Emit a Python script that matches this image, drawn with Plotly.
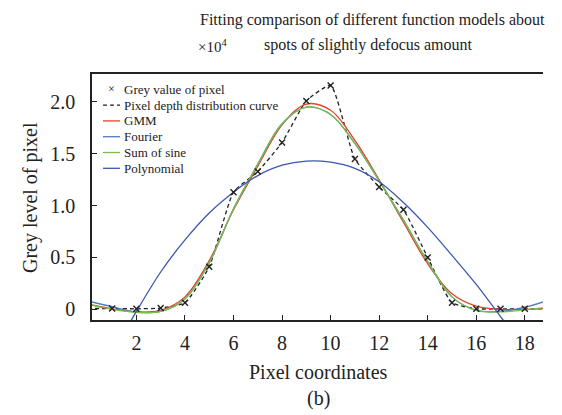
import plotly.graph_objects as go

# ---------------- data ----------------
pixel_x = list(range(0, 20))
grey_value = [0.008, 0.008, 0.005, 0.012, 0.064, 0.41, 1.13, 1.33, 1.61, 2.01,
              2.16, 1.45, 1.18, 0.96, 0.50, 0.064, 0.005, 0.005, 0.005, 0.005]

fit_x = list(range(0, 20))
gmm = [0.05, 0.005, -0.025, -0.01, 0.12, 0.47, 0.96, 1.38, 1.78, 1.98,
       1.92, 1.63, 1.25, 0.84, 0.44, 0.15, 0.03, 0.0, 0.0, 0.01]
fourier = [0.08, 0.025, -0.025, -0.02, 0.10, 0.45, 0.97, 1.40, 1.79, 1.95,
           1.88, 1.60, 1.24, 0.86, 0.46, 0.12, -0.01, -0.02, 0.02, 0.09]
sum_of_sine = [0.05, 0.0, -0.03, -0.02, 0.10, 0.45, 0.97, 1.40, 1.79, 1.95,
               1.88, 1.60, 1.24, 0.86, 0.46, 0.12, -0.01, -0.025, -0.005, 0.02]
poly_x = [1.7, 2, 3, 4, 5, 6, 7, 8, 9, 10, 11, 12, 13, 14, 15, 16, 17, 17.3]
polynomial = [-0.14, -0.02, 0.36, 0.67, 0.93, 1.13, 1.29, 1.39, 1.43, 1.42,
              1.36, 1.23, 1.03, 0.79, 0.52, 0.24, -0.07, -0.16]

x_tick_vals = [2, 4, 6, 8, 10, 12, 14, 16, 18]
y_tick_vals = [0, 0.5, 1.0, 1.5, 2.0]
y_tick_text = ["0", "0.5", "1.0", "1.5", "2.0"]

legend_names = ["Grey value of pixel", "Pixel depth distribution curve", "GMM",
                "Fourier", "Sum of sine", "Polynomial"]

# ---------------- styles ----------------
FONT = "Liberation Serif"
C_RED = "#E5402A"
C_FOU = "#4A7CC8"
C_GRN = "#77C043"
C_POL = "#3B57AE"
C_BLK = "#222222"

L, R, T, B = 92, 19, 74, 95
W, H = 562, 415
PW, PH = W - L - R, H - T - B


def px2paper(px, py):
    return (px - L) / PW, (H - B - py) / PH


fig = go.Figure()
fig.add_trace(go.Scatter(x=pixel_x, y=grey_value, mode="lines", name=legend_names[1],
                         line=dict(color=C_BLK, width=1.3, dash="4px,3px",
                                   shape="spline", smoothing=0.5),
                         showlegend=False))
fig.add_trace(go.Scatter(x=fit_x, y=gmm, mode="lines", name=legend_names[2],
                         line=dict(color=C_RED, width=1.3, shape="spline"), showlegend=False))
fig.add_trace(go.Scatter(x=fit_x, y=fourier, mode="lines", name=legend_names[3],
                         line=dict(color=C_FOU, width=1.3, shape="spline"), showlegend=False))
fig.add_trace(go.Scatter(x=fit_x, y=sum_of_sine, mode="lines", name=legend_names[4],
                         line=dict(color=C_GRN, width=1.3, shape="spline"), showlegend=False))
fig.add_trace(go.Scatter(x=poly_x, y=polynomial, mode="lines", name=legend_names[5],
                         line=dict(color=C_POL, width=1.3, shape="spline"), showlegend=False))
fig.add_trace(go.Scatter(x=pixel_x, y=grey_value, mode="markers", name=legend_names[0],
                         marker=dict(symbol="x-thin", size=6, color=C_BLK,
                                     line=dict(color=C_BLK, width=1.4)),
                         showlegend=False))

# ---------------- manual legend ----------------
shapes = []
annotations = []
row_y = [89.3, 105.1, 120.9, 136.7, 152.5, 168.3]
sym_x0, sym_x1, text_x = 103, 120, 122
styles = [None, (C_BLK, "dash"), (C_RED, "solid"), (C_FOU, "solid"),
          (C_GRN, "solid"), (C_POL, "solid")]
for i, name in enumerate(legend_names):
    yy = row_y[i]
    if styles[i] is None:
        cx, cy = px2paper(111.5, yy)
        annotations.append(dict(x=cx, y=cy, xref="paper", yref="paper", text="×",
                                showarrow=False, font=dict(family=FONT, size=12, color=C_BLK),
                                xanchor="center", yanchor="middle"))
    else:
        col, dsh = styles[i]
        x0, y0 = px2paper(sym_x0, yy)
        x1, _ = px2paper(sym_x1, yy)
        shapes.append(dict(type="line", xref="paper", yref="paper", x0=x0, x1=x1, y0=y0, y1=y0,
                           line=dict(color=col, width=1.3, dash="4px,3px" if dsh == "dash" else "solid")))
    tx, ty = px2paper(text_x, yy)
    annotations.append(dict(x=tx, y=ty, xref="paper", yref="paper", text=name,
                            showarrow=False, font=dict(family=FONT, size=13, color=C_BLK),
                            xanchor="left", yanchor="middle"))

# ---------------- texts ----------------
def ann(text, px, py, size, angle=0):
    ax, ay = px2paper(px, py)
    annotations.append(dict(x=ax, y=ay, xref="paper", yref="paper", text=text, showarrow=False,
                            textangle=angle, font=dict(family=FONT, size=size, color=C_BLK),
                            xanchor="center", yanchor="middle"))

ann("Fitting comparison of different function models about", 372, 20, 16)
ann("spots of slightly defocus amount", 368, 45, 16)
ann("×10<sup>4</sup>", 212, 46, 15)
ann("Pixel coordinates", 318, 372, 20)
ann("(b)", 318, 398, 20)
ann("Grey level of pixel", 30, 197, 20, angle=-90)

fig.update_layout(
    width=W, height=H,
    margin=dict(l=L, r=R, t=T, b=B, pad=0),
    paper_bgcolor="white", plot_bgcolor="white",
    font=dict(family=FONT, size=20, color=C_BLK),
    showlegend=False,
    shapes=shapes,
    annotations=annotations,
    xaxis=dict(range=[0.17, 18.75], tickvals=x_tick_vals, ticks="inside", ticklen=5,
               tickwidth=1.2, tickcolor=C_BLK, showline=True, linecolor=C_BLK, linewidth=1.5,
               mirror=True, showgrid=False, zeroline=False, ticklabelstandoff=4,
               tickfont=dict(family=FONT, size=20, color=C_BLK)),
    yaxis=dict(range=[-0.103, 2.27], tickvals=y_tick_vals, ticktext=y_tick_text,
               ticks="inside", ticklen=5, tickwidth=1.2, tickcolor=C_BLK, showline=True,
               linecolor=C_BLK, linewidth=1.5, mirror=False, showgrid=False, zeroline=False,
               ticklabelstandoff=11, tickfont=dict(family=FONT, size=20, color=C_BLK)),
)

fig.write_html("out.html", config={"displayModeBar": False},
               post_script="document.body.style.margin='0';document.body.style.padding='0';")
